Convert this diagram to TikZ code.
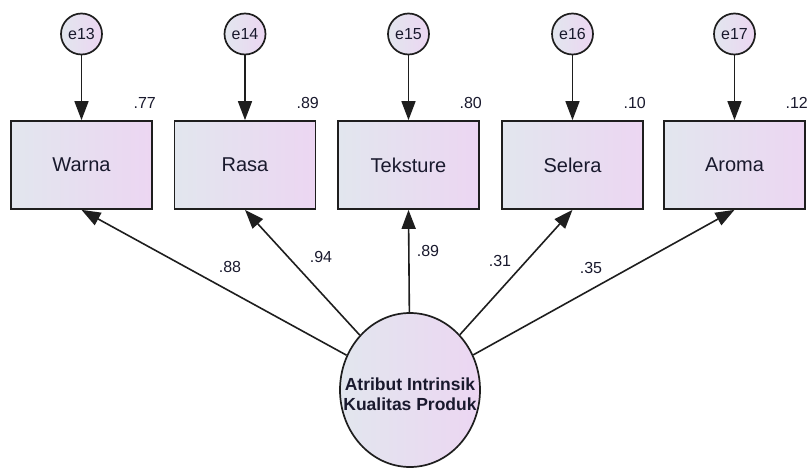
\documentclass[tikz,border=0pt]{standalone}
\usepackage{fontspec}
\setmainfont{Liberation Sans}
\usetikzlibrary{shapes.geometric,arrows.meta}
\definecolor{fillL}{RGB}{226,230,238}
\definecolor{fillR}{RGB}{236,214,242}
\definecolor{edge}{RGB}{30,30,30}
\definecolor{txt}{RGB}{25,25,45}
\tikzset{
  obsbox/.style={draw=edge, line width=1.7pt, rectangle, minimum width=141pt, minimum height=88pt,
    left color=fillL, right color=fillR, text=txt, font=\fontsize{20}{24}\selectfont, inner sep=0pt},
  errc/.style={draw=edge, line width=1.7pt, circle, minimum size=41pt, inner sep=0pt,
    left color=fillL, right color=fillR, text=txt, font=\fontsize{16}{18}\selectfont},
  latent/.style={draw=edge, line width=1.7pt, ellipse, minimum width=140pt, minimum height=154pt,
    inner sep=0pt, left color=fillL, right color=fillR},
  lattxt/.style={text=txt, font=\bfseries\fontsize{17.5}{20}\selectfont, align=center, inner sep=0pt},
  rsq/.style={text=txt, font=\fontsize{16}{18}\selectfont, anchor=east, inner sep=0pt},
  coef/.style={text=txt, font=\fontsize{16}{18}\selectfont, inner sep=0pt},
  path/.style={draw=edge, line width=1.6pt, -{Triangle[length=19pt,width=14pt]}},
}
\begin{document}
\begin{tikzpicture}[x=1pt,y=-1pt]
\useasboundingbox (0,0) rectangle (812,474);
% observed boxes
\node[obsbox] (w) at (81.5,165) {Warna};
\node[obsbox] (r) at (245,165) {Rasa};
\node[obsbox] (t) at (408.5,165) {Teksture};
\node[obsbox] (s) at (572.5,165) {Selera};
\node[obsbox] (a) at (734.5,165) {Aroma};
% error circles
\node[errc] (e13) at (81.5,34) {e13};
\node[errc] (e14) at (245,34) {e14};
\node[errc] (e15) at (408.5,34) {e15};
\node[errc] (e16) at (572.5,34) {e16};
\node[errc] (e17) at (734.5,34) {e17};
% latent
\node[latent] (lat) at (410,390) {};
\node[lattxt] (lattext) at (410,394) {Atribut Intrinsik\\Kualitas Produk};
% error arrows
\draw[path] (e13) -- (w.north);
\draw[path] (e14) -- (r.north);
\draw[path] (e15) -- (t.north);
\draw[path] (e16) -- (s.north);
\draw[path] (e17) -- (a.north);
% loadings
\draw[path] (lat) -- (w.south);
\draw[path] (lat) -- (r.south);
\draw[path] (lat) -- (t.south);
\draw[path] (lat) -- (s.south);
\draw[path] (lat) -- (a.south);
% R squared
\node[rsq] (r1) at (156,103) {.77};
\node[rsq] (r2) at (319,103) {.89};
\node[rsq] (r3) at (482,103) {.80};
\node[rsq] (r4) at (646,103) {.10};
\node[rsq] (r5) at (808,103) {.12};
% coefficients
\node[coef] (c1) at (230,267) {.88};
\node[coef] (c2) at (321,257) {.94};
\node[coef] (c3) at (428,251) {.89};
\node[coef] (c4) at (500,261) {.31};
\node[coef] (c5) at (591,268) {.35};
\end{tikzpicture}
\end{document}
